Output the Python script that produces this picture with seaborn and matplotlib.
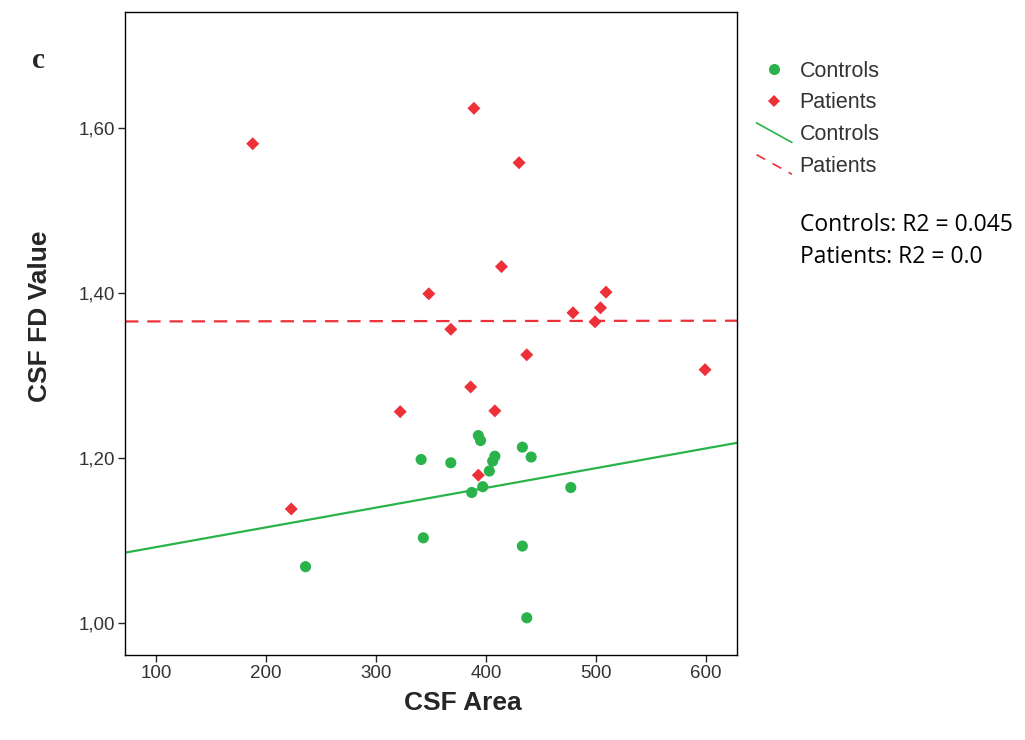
import matplotlib
matplotlib.use("Agg")
import matplotlib.pyplot as plt
from matplotlib.legend_handler import HandlerLine2D
from matplotlib.lines import Line2D
import pandas as pd
import seaborn as sns

# ── data ───────────────────────────────────────────────────────────────────
ctrl_area = [236, 343, 341, 368, 393, 395, 387, 397, 403, 406, 408, 433, 441, 433, 437, 477]
ctrl_fd = [1.068, 1.103, 1.198, 1.194, 1.227, 1.221, 1.158, 1.165, 1.184, 1.196,
           1.202, 1.213, 1.201, 1.093, 1.006, 1.164]
pat_area = [188, 389, 430, 414, 348, 509, 504, 479, 499, 368, 437, 386, 408, 322, 599, 393, 223]
pat_fd = [1.581, 1.624, 1.558, 1.432, 1.399, 1.401, 1.382, 1.376, 1.365, 1.356,
          1.325, 1.286, 1.257, 1.256, 1.307, 1.179, 1.138]
groups = ["Controls", "Patients"]
r2_text = ["0.045", "0.0"]
x_ticks = [100, 200, 300, 400, 500, 600]
y_ticks = [1.00, 1.20, 1.40, 1.60]
y_tick_labels = ["1,00", "1,20", "1,40", "1,60"]

GREEN = "#2ab34a"
RED = "#ee3039"
TXT = "#333333"

sns.set_style("white")
plt.rcParams["font.family"] = ["Liberation Sans", "DejaVu Sans"]

df = pd.concat([
    pd.DataFrame({"area": ctrl_area, "fd": ctrl_fd, "group": groups[0]}),
    pd.DataFrame({"area": pat_area, "fd": pat_fd, "group": groups[1]}),
], ignore_index=True)
ctrl = df[df["group"] == groups[0]]
pat = df[df["group"] == groups[1]]

fig = plt.figure(figsize=(10.25, 7.4), dpi=100)
ax = fig.add_axes([0.122, 0.115, 0.597, 0.869])
XLIM, YLIM = (72, 628), (0.961, 1.741)
ax.set_xlim(*XLIM)
ax.set_ylim(*YLIM)

# fit lines across the whole axis
sns.regplot(data=ctrl, x="area", y="fd", scatter=False, ci=None, truncate=False,
            color=GREEN, line_kws=dict(lw=1.6, zorder=2), ax=ax)
sns.regplot(data=pat, x="area", y="fd", scatter=False, ci=None, truncate=False,
            color=RED, line_kws=dict(lw=1.6, ls=(0, (6, 4)), zorder=2), ax=ax)

sns.scatterplot(data=ctrl, x="area", y="fd", color=GREEN, marker="o", s=64,
                edgecolor="none", ax=ax, zorder=3)
sns.scatterplot(data=pat, x="area", y="fd", color=RED, marker="D", s=44,
                edgecolor="none", ax=ax, zorder=3)

ax.set_xlim(*XLIM)
ax.set_ylim(*YLIM)
ax.set_xticks(x_ticks)
ax.set_yticks(y_ticks)
ax.set_yticklabels(y_tick_labels)
ax.tick_params(axis="both", direction="out", length=5, width=1, labelsize=13.5,
               labelcolor=TXT, bottom=True, left=True, pad=2)
for sp in ax.spines.values():
    sp.set_color("black")
    sp.set_linewidth(1)

ax.set_xlabel("CSF Area", fontsize=19, fontweight="bold")
ax.set_ylabel("CSF FD Value", fontsize=19, fontweight="bold")
ax.xaxis.set_label_coords(0.552, -0.056)
ax.yaxis.set_label_coords(-0.12, 0.527)

fig.text(0.031, 0.908, "c", fontsize=21, fontweight="bold", family="Liberation Serif")


# ── legend with diagonal line symbols ──────────────────────────────────────
class DiagonalHandler(HandlerLine2D):
    def create_artists(self, legend, orig_handle, xdescent, ydescent,
                       width, height, fontsize, trans):
        line = Line2D([-xdescent, -xdescent + width],
                      [-ydescent + height * 1.15, -ydescent - height * 0.15])
        self.update_prop(line, orig_handle, legend)
        line.set_transform(trans)
        return [line]


handles = [
    Line2D([], [], marker="o", color=GREEN, ls="none", markersize=8, markeredgewidth=0),
    Line2D([], [], marker="D", color=RED, ls="none", markersize=6.5, markeredgewidth=0),
    Line2D([], [], color=GREEN, lw=1.2),
    Line2D([], [], color=RED, lw=1.2, ls=(0, (6, 5))),
]
leg = fig.legend(handles, groups + groups, loc="upper left",
                 bbox_to_anchor=(0.738, 0.918), frameon=False, fontsize=15.5,
                 handlelength=1.65, handletextpad=0.35, labelspacing=0.5,
                 borderpad=0, borderaxespad=0,
                 handler_map={handles[2]: DiagonalHandler(),
                              handles[3]: DiagonalHandler()})
for t in leg.get_texts():
    t.set_color(TXT)

for i, (g, r2) in enumerate(zip(groups, r2_text)):
    fig.text(0.780, 0.688 - i * 0.043, f"{g}: R2 = {r2}", fontsize=16.5,
             family=["Open Sans", "DejaVu Sans"], color="black")

fig.savefig("out.png", dpi=100)
